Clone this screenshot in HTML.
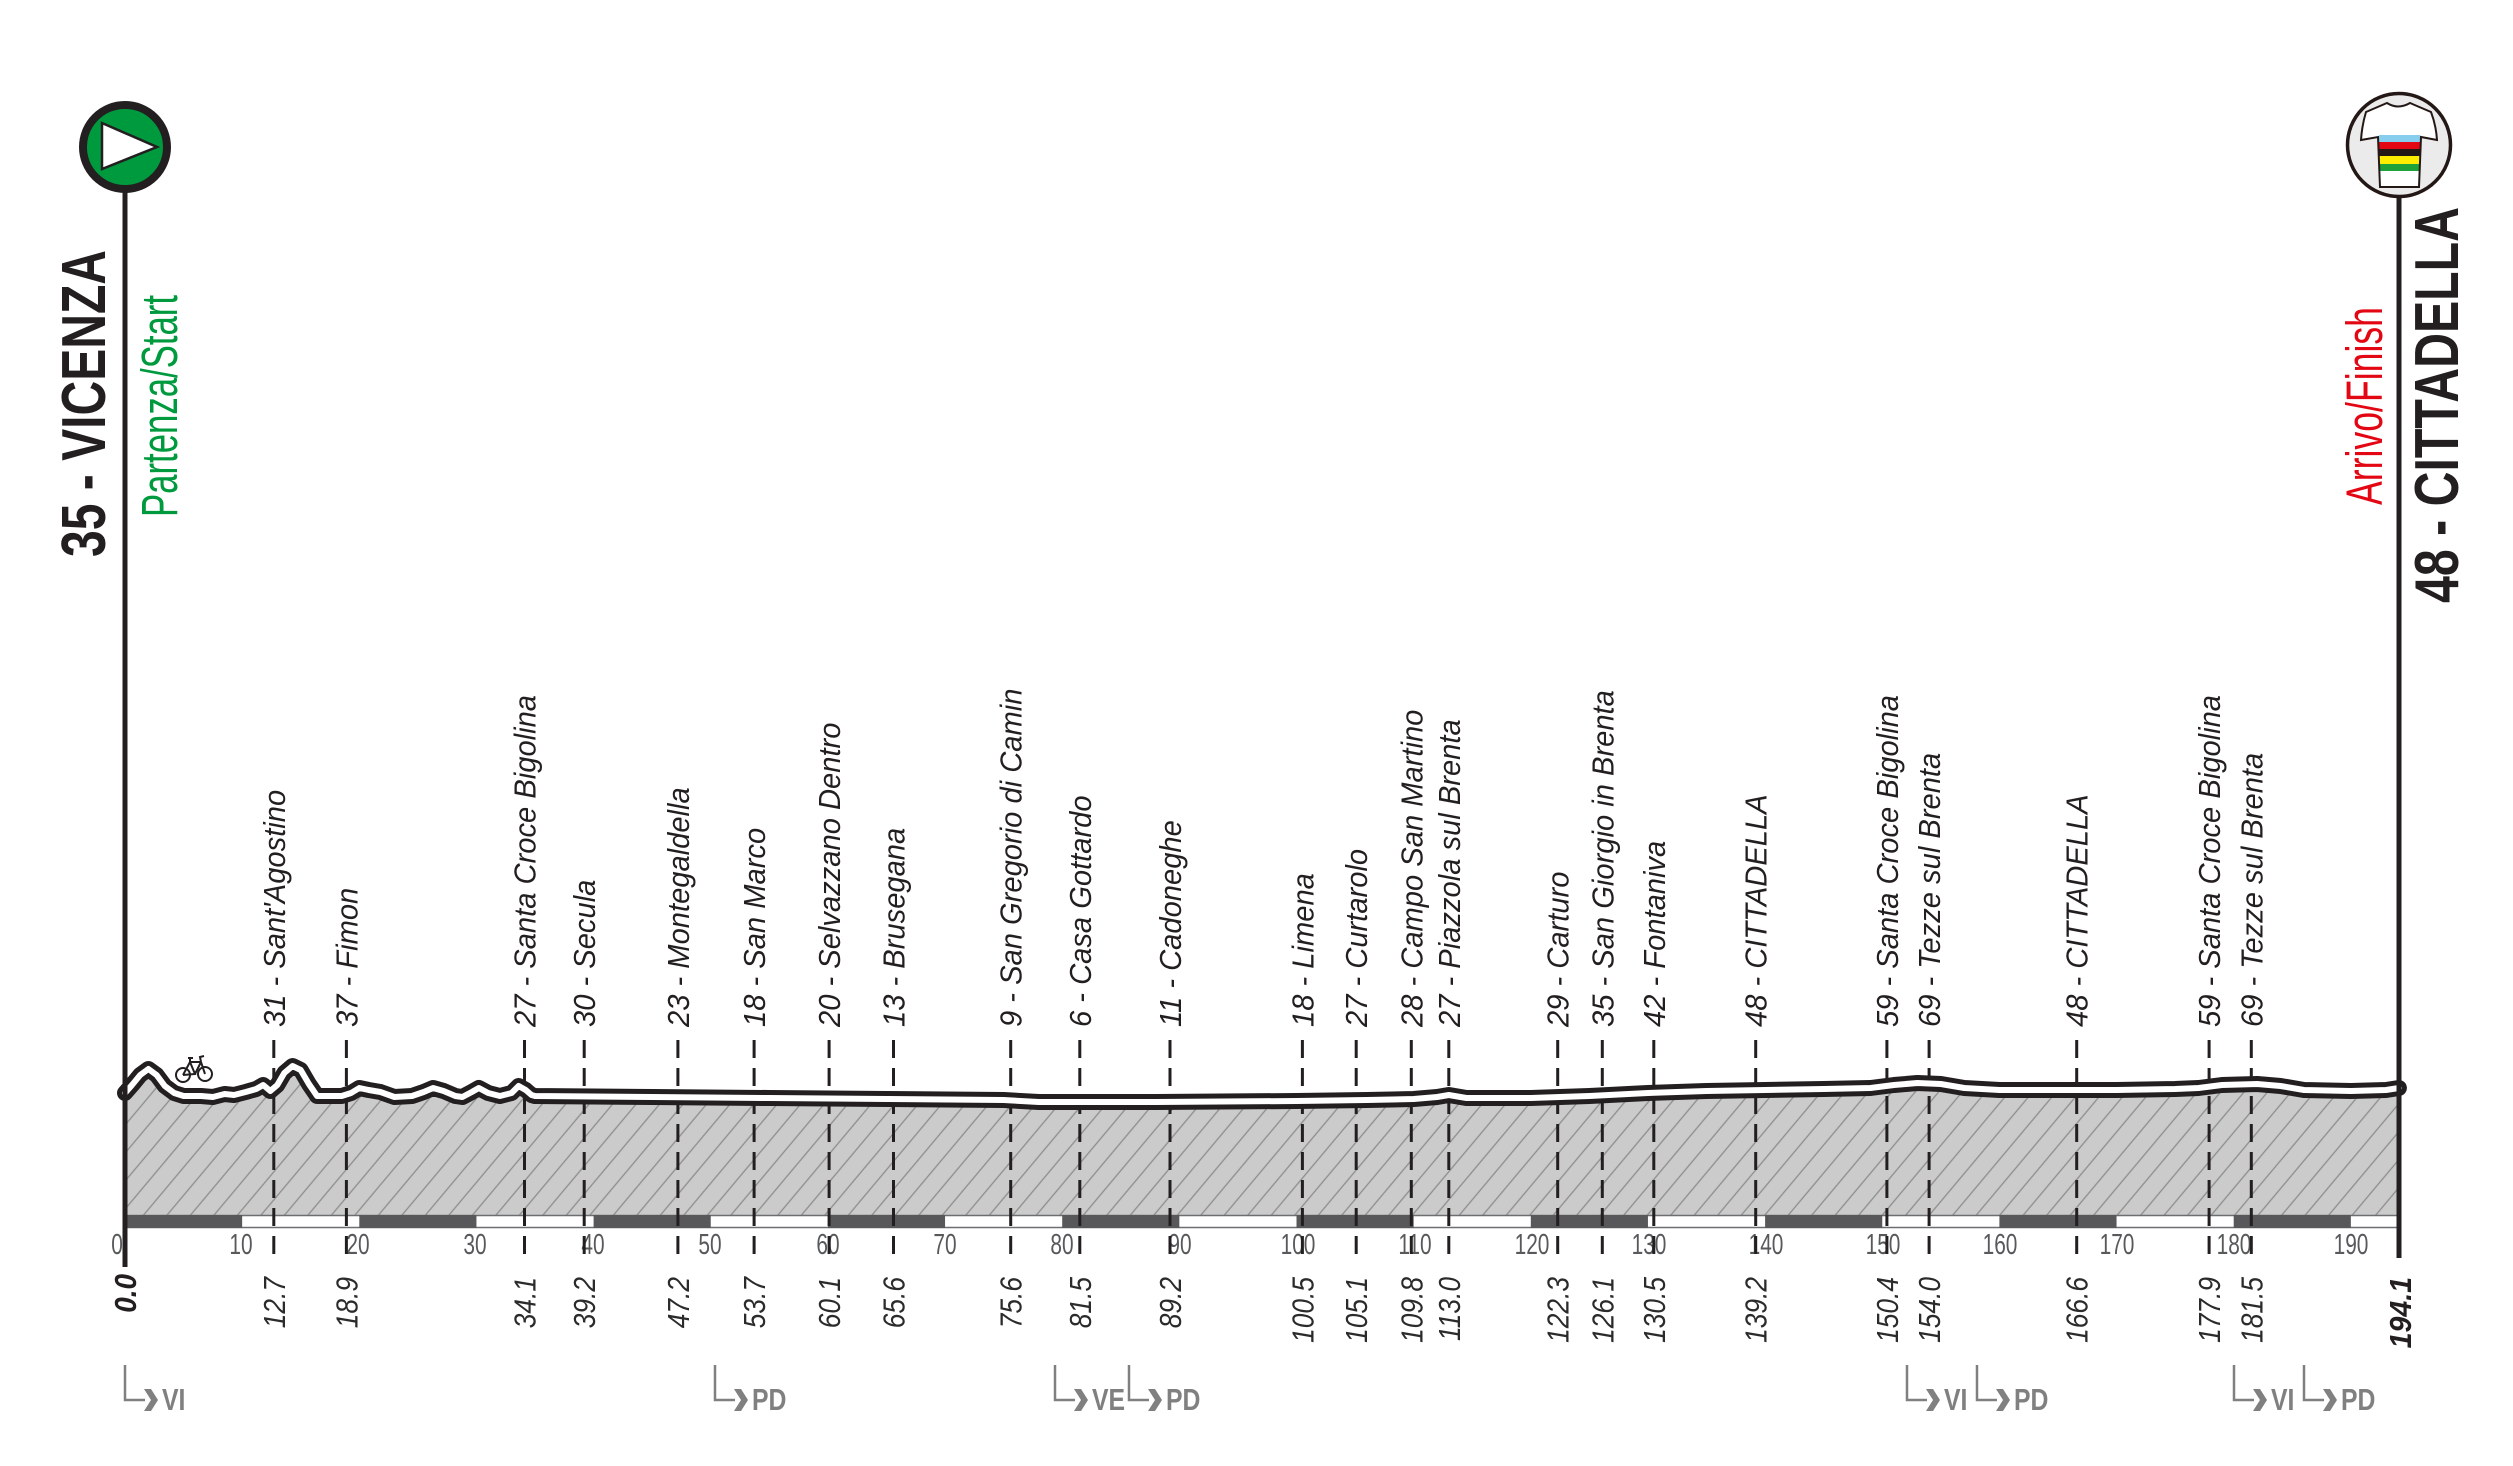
<!DOCTYPE html>
<html>
<head>
<meta charset="utf-8">
<style>
html,body{margin:0;padding:0;background:#fff;}
svg{display:block;}
.t{font-family:"Liberation Sans",sans-serif;font-style:italic;font-size:31px;fill:#231f20;}
.b{font-family:"Liberation Sans",sans-serif;font-style:italic;font-size:31px;fill:#2b2b2b;}
.bb{font-family:"Liberation Sans",sans-serif;font-style:italic;font-weight:bold;font-size:31px;fill:#231f20;}
.k{font-family:"Liberation Sans",sans-serif;font-size:29px;fill:#58595b;}
.m{font-family:"Liberation Sans",sans-serif;font-weight:bold;font-size:31px;fill:#808080;}
.ttl{font-family:"Liberation Sans",sans-serif;font-weight:bold;font-size:62px;fill:#231f20;}
.sub{font-family:"Liberation Sans",sans-serif;font-size:51px;}
</style>
</head>
<body>
<svg width="2513" height="1466" viewBox="0 0 2513 1466" xmlns="http://www.w3.org/2000/svg">
<defs>
<pattern id="h" width="18" height="18" patternUnits="userSpaceOnUse" patternTransform="rotate(40)">
<line x1="9" y1="0" x2="9" y2="18" stroke="#8d8d8d" stroke-width="1.3"/>
</pattern>
</defs>

<!-- profile line path (reference) -->
<path id="prof" d="M125,1093 L132,1085 L140.2,1075 L148.4,1069 L156.6,1075 L164.8,1086 L174.2,1093 L183.6,1096 L201.1,1096 L212.9,1097 L224.6,1094 L234,1095 L245.7,1092 L256.2,1089 L263.2,1085 L270.3,1091 L277.3,1085 L284.3,1073 L292.5,1066 L300.7,1070 L308.9,1084 L317.1,1096 L341.7,1096 L351.1,1093 L359.3,1088 L368.7,1090 L380.4,1092 L394.4,1097 L412,1096 L423.7,1092 L433.1,1088 L443.6,1091 L455.4,1096 L462.4,1097 L471.8,1092 L478.8,1088 L488.2,1093 L499.9,1096 L511.6,1093 L518.6,1086 L525.7,1090 L531.5,1095 L535,1096 L652.2,1097 L769.3,1098 L886.5,1099 L1003.6,1100 L1038.8,1102 L1155.9,1102 L1296.5,1101 L1366.8,1100 L1413.7,1099 L1437.1,1097 L1448.8,1095 L1466.4,1098 L1530.8,1098 L1589.4,1096 L1648,1093 L1706.5,1091 L1765.1,1090 L1823.7,1089 L1870.5,1088 L1894,1085 L1917.4,1083 L1940.8,1084 L1964.3,1088 L1999.4,1090 L2116.6,1090 L2175.1,1089 L2198.6,1088 L2222,1085 L2257.1,1084 L2280.6,1086 L2304,1090 L2350.9,1091 L2386,1090 L2398.9,1088" fill="none"/>
<path d="M125,1093 L132,1085 L140.2,1075 L148.4,1069 L156.6,1075 L164.8,1086 L174.2,1093 L183.6,1096 L201.1,1096 L212.9,1097 L224.6,1094 L234,1095 L245.7,1092 L256.2,1089 L263.2,1085 L270.3,1091 L277.3,1085 L284.3,1073 L292.5,1066 L300.7,1070 L308.9,1084 L317.1,1096 L341.7,1096 L351.1,1093 L359.3,1088 L368.7,1090 L380.4,1092 L394.4,1097 L412,1096 L423.7,1092 L433.1,1088 L443.6,1091 L455.4,1096 L462.4,1097 L471.8,1092 L478.8,1088 L488.2,1093 L499.9,1096 L511.6,1093 L518.6,1086 L525.7,1090 L531.5,1095 L535,1096 L652.2,1097 L769.3,1098 L886.5,1099 L1003.6,1100 L1038.8,1102 L1155.9,1102 L1296.5,1101 L1366.8,1100 L1413.7,1099 L1437.1,1097 L1448.8,1095 L1466.4,1098 L1530.8,1098 L1589.4,1096 L1648,1093 L1706.5,1091 L1765.1,1090 L1823.7,1089 L1870.5,1088 L1894,1085 L1917.4,1083 L1940.8,1084 L1964.3,1088 L1999.4,1090 L2116.6,1090 L2175.1,1089 L2198.6,1088 L2222,1085 L2257.1,1084 L2280.6,1086 L2304,1090 L2350.9,1091 L2386,1090 L2398.9,1088 L2398.9,1215 L125,1215 Z" fill="#cbcbcb"/>
<path d="M125,1093 L132,1085 L140.2,1075 L148.4,1069 L156.6,1075 L164.8,1086 L174.2,1093 L183.6,1096 L201.1,1096 L212.9,1097 L224.6,1094 L234,1095 L245.7,1092 L256.2,1089 L263.2,1085 L270.3,1091 L277.3,1085 L284.3,1073 L292.5,1066 L300.7,1070 L308.9,1084 L317.1,1096 L341.7,1096 L351.1,1093 L359.3,1088 L368.7,1090 L380.4,1092 L394.4,1097 L412,1096 L423.7,1092 L433.1,1088 L443.6,1091 L455.4,1096 L462.4,1097 L471.8,1092 L478.8,1088 L488.2,1093 L499.9,1096 L511.6,1093 L518.6,1086 L525.7,1090 L531.5,1095 L535,1096 L652.2,1097 L769.3,1098 L886.5,1099 L1003.6,1100 L1038.8,1102 L1155.9,1102 L1296.5,1101 L1366.8,1100 L1413.7,1099 L1437.1,1097 L1448.8,1095 L1466.4,1098 L1530.8,1098 L1589.4,1096 L1648,1093 L1706.5,1091 L1765.1,1090 L1823.7,1089 L1870.5,1088 L1894,1085 L1917.4,1083 L1940.8,1084 L1964.3,1088 L1999.4,1090 L2116.6,1090 L2175.1,1089 L2198.6,1088 L2222,1085 L2257.1,1084 L2280.6,1086 L2304,1090 L2350.9,1091 L2386,1090 L2398.9,1088 L2398.9,1215 L125,1215 Z" fill="url(#h)"/>

<!-- km bar -->
<rect x="125" y="1215.5" width="2273.9" height="12" fill="#fff" stroke="#6d6e71" stroke-width="1.5"/>
<g fill="#58585a">
<rect x="125" y="1215" width="117.15" height="13"/>
<rect x="359.3" y="1215" width="117.15" height="13"/>
<rect x="593.6" y="1215" width="117.15" height="13"/>
<rect x="827.9" y="1215" width="117.15" height="13"/>
<rect x="1062.2" y="1215" width="117.15" height="13"/>
<rect x="1296.5" y="1215" width="117.15" height="13"/>
<rect x="1530.8" y="1215" width="117.15" height="13"/>
<rect x="1765.1" y="1215" width="117.15" height="13"/>
<rect x="1999.4" y="1215" width="117.15" height="13"/>
<rect x="2233.7" y="1215" width="117.15" height="13"/>
</g>

<!-- km tick labels -->
<g class="k" text-anchor="middle">
<text transform="translate(117,1254) scale(0.72,1)">0</text>
<text transform="translate(241,1254) scale(0.72,1)">10</text>
<text transform="translate(358,1254) scale(0.72,1)">20</text>
<text transform="translate(475,1254) scale(0.72,1)">30</text>
<text transform="translate(593,1254) scale(0.72,1)">40</text>
<text transform="translate(710,1254) scale(0.72,1)">50</text>
<text transform="translate(828,1254) scale(0.72,1)">60</text>
<text transform="translate(945,1254) scale(0.72,1)">70</text>
<text transform="translate(1062,1254) scale(0.72,1)">80</text>
<text transform="translate(1180,1254) scale(0.72,1)">90</text>
<text transform="translate(1298,1254) scale(0.72,1)">100</text>
<text transform="translate(1415,1254) scale(0.72,1)">110</text>
<text transform="translate(1532,1254) scale(0.72,1)">120</text>
<text transform="translate(1649,1254) scale(0.72,1)">130</text>
<text transform="translate(1766,1254) scale(0.72,1)">140</text>
<text transform="translate(1883,1254) scale(0.72,1)">150</text>
<text transform="translate(2000,1254) scale(0.72,1)">160</text>
<text transform="translate(2117,1254) scale(0.72,1)">170</text>
<text transform="translate(2234,1254) scale(0.72,1)">180</text>
<text transform="translate(2351,1254) scale(0.72,1)">190</text>
</g>

<!-- dashed lines -->
<g stroke="#231f20" stroke-width="3" stroke-dasharray="18 10">
<line x1="273.8" y1="1040" x2="273.8" y2="1262"/>
<line x1="346.4" y1="1040" x2="346.4" y2="1262"/>
<line x1="524.5" y1="1040" x2="524.5" y2="1262"/>
<line x1="584.2" y1="1040" x2="584.2" y2="1262"/>
<line x1="677.9" y1="1040" x2="677.9" y2="1262"/>
<line x1="754.1" y1="1040" x2="754.1" y2="1262"/>
<line x1="829.1" y1="1040" x2="829.1" y2="1262"/>
<line x1="893.5" y1="1040" x2="893.5" y2="1262"/>
<line x1="1010.7" y1="1040" x2="1010.7" y2="1262"/>
<line x1="1079.8" y1="1040" x2="1079.8" y2="1262"/>
<line x1="1170" y1="1040" x2="1170" y2="1262"/>
<line x1="1302.4" y1="1040" x2="1302.4" y2="1262"/>
<line x1="1356.2" y1="1040" x2="1356.2" y2="1262"/>
<line x1="1411.3" y1="1040" x2="1411.3" y2="1262"/>
<line x1="1448.8" y1="1040" x2="1448.8" y2="1262"/>
<line x1="1557.7" y1="1040" x2="1557.7" y2="1262"/>
<line x1="1602.3" y1="1040" x2="1602.3" y2="1262"/>
<line x1="1653.8" y1="1040" x2="1653.8" y2="1262"/>
<line x1="1755.7" y1="1040" x2="1755.7" y2="1262"/>
<line x1="1886.9" y1="1040" x2="1886.9" y2="1262"/>
<line x1="1929.1" y1="1040" x2="1929.1" y2="1262"/>
<line x1="2076.7" y1="1040" x2="2076.7" y2="1262"/>
<line x1="2209.1" y1="1040" x2="2209.1" y2="1262"/>
<line x1="2251.3" y1="1040" x2="2251.3" y2="1262"/>
</g>

<!-- profile line -->
<use href="#prof" stroke="#231f20" stroke-width="16" stroke-linejoin="round" stroke-linecap="round"/>
<use href="#prof" stroke="#ffffff" stroke-width="6" stroke-linejoin="round" stroke-linecap="round"/>

<!-- bike icon -->
<g fill="none" stroke="#231f20" stroke-width="2">
<circle cx="183" cy="1075" r="7"/>
<circle cx="205" cy="1074" r="7"/>
<path d="M183,1075 L190,1062 L201,1062 L205,1074 M190,1062 L195,1074 L183,1075 M195,1074 L201,1062 M188,1058 L193,1058 M190,1058 L190,1062 M201,1062 L200,1057 L204,1056"/>
</g>

<!-- axes -->
<line x1="125" y1="190" x2="125" y2="1267" stroke="#231f20" stroke-width="5"/>
<line x1="2399" y1="196" x2="2399" y2="1258" stroke="#231f20" stroke-width="5"/>

<!-- start circle -->
<circle cx="125" cy="147" r="42" fill="#009a3e" stroke="#231f20" stroke-width="8"/>
<polygon points="102,123 102,169 157,147" fill="#fff" stroke="#231f20" stroke-width="2.5" stroke-linejoin="miter"/>

<!-- finish circle -->
<circle cx="2399" cy="145" r="51.5" fill="#ebebeb" stroke="#231815" stroke-width="3.5"/>
<g>
<path d="M2366,112 L2387,103 Q2398,110 2410,103 L2431,112 Q2436,125 2437,140 L2421,137 L2419,187 L2380,187 L2378,137 L2361,140 Q2362,125 2366,112 Z" fill="#fff"/>
<rect x="2379" y="135" width="41" height="7" fill="#87cdee"/>
<rect x="2379" y="142" width="41" height="7" fill="#e30613"/>
<rect x="2379" y="149" width="41" height="7" fill="#231815"/>
<rect x="2379" y="156" width="41" height="8" fill="#ffed00"/>
<rect x="2379" y="164" width="41" height="7" fill="#1fa23a"/>
<rect x="2379" y="171" width="41" height="16" fill="#ffffff"/>
<path d="M2366,112 L2387,103 Q2398,110 2410,103 L2431,112 Q2436,125 2437,140 L2421,137 L2419,187 L2380,187 L2378,137 L2361,140 Q2362,125 2366,112 Z" fill="none" stroke="#231815" stroke-width="2"/>
</g>

<!-- titles -->
<text class="ttl" transform="translate(105,557) rotate(-90)" textLength="307" lengthAdjust="spacingAndGlyphs">35 - VICENZA</text>
<text class="sub" fill="#009a3e" transform="translate(177,517) rotate(-90)" textLength="222" lengthAdjust="spacingAndGlyphs">Partenza/Start</text>
<text class="ttl" transform="translate(2458,603) rotate(-90)" textLength="396" lengthAdjust="spacingAndGlyphs">48 - CITTADELLA</text>
<text class="sub" fill="#e30613" transform="translate(2382,505) rotate(-90)" textLength="198" lengthAdjust="spacingAndGlyphs">Arrivo/Finish</text>

<!-- top location labels -->
<g class="t">
<text transform="translate(284.8,1027) rotate(-90) scale(0.94,1)">31 - Sant'Agostino</text>
<text transform="translate(357.4,1027) rotate(-90) scale(0.94,1)">37 - Fimon</text>
<text transform="translate(535.5,1027) rotate(-90) scale(0.94,1)">27 - Santa Croce Bigolina</text>
<text transform="translate(595.2,1027) rotate(-90) scale(0.94,1)">30 - Secula</text>
<text transform="translate(688.9,1027) rotate(-90) scale(0.94,1)">23 - Montegaldella</text>
<text transform="translate(765.1,1027) rotate(-90) scale(0.94,1)">18 - San Marco</text>
<text transform="translate(840.1,1027) rotate(-90) scale(0.94,1)">20 - Selvazzano Dentro</text>
<text transform="translate(904.5,1027) rotate(-90) scale(0.94,1)">13 - Brusegana</text>
<text transform="translate(1021.7,1027) rotate(-90) scale(0.94,1)">9 - San Gregorio di Camin</text>
<text transform="translate(1090.8,1027) rotate(-90) scale(0.94,1)">6 - Casa Gottardo</text>
<text transform="translate(1181,1027) rotate(-90) scale(0.94,1)">11 - Cadoneghe</text>
<text transform="translate(1313.4,1027) rotate(-90) scale(0.94,1)">18 - Limena</text>
<text transform="translate(1367.2,1027) rotate(-90) scale(0.94,1)">27 - Curtarolo</text>
<text transform="translate(1422.3,1027) rotate(-90) scale(0.94,1)">28 - Campo San Martino</text>
<text transform="translate(1459.8,1027) rotate(-90) scale(0.94,1)">27 - Piazzola sul Brenta</text>
<text transform="translate(1568.7,1027) rotate(-90) scale(0.94,1)">29 - Carturo</text>
<text transform="translate(1613.3,1027) rotate(-90) scale(0.94,1)">35 - San Giorgio in Brenta</text>
<text transform="translate(1664.8,1027) rotate(-90) scale(0.94,1)">42 - Fontaniva</text>
<text transform="translate(1766.7,1027) rotate(-90) scale(0.94,1)">48 - CITTADELLA</text>
<text transform="translate(1897.9,1027) rotate(-90) scale(0.94,1)">59 - Santa Croce Bigolina</text>
<text transform="translate(1940.1,1027) rotate(-90) scale(0.94,1)">69 - Tezze sul Brenta</text>
<text transform="translate(2087.7,1027) rotate(-90) scale(0.94,1)">48 - CITTADELLA</text>
<text transform="translate(2220.1,1027) rotate(-90) scale(0.94,1)">59 - Santa Croce Bigolina</text>
<text transform="translate(2262.3,1027) rotate(-90) scale(0.94,1)">69 - Tezze sul Brenta</text>
</g>

<!-- bottom km labels -->
<g class="b" text-anchor="end">
<text transform="translate(284.8,1277) rotate(-90) scale(0.85,1)">12.7</text>
<text transform="translate(357.4,1277) rotate(-90) scale(0.85,1)">18.9</text>
<text transform="translate(535.5,1277) rotate(-90) scale(0.85,1)">34.1</text>
<text transform="translate(595.2,1277) rotate(-90) scale(0.85,1)">39.2</text>
<text transform="translate(688.9,1277) rotate(-90) scale(0.85,1)">47.2</text>
<text transform="translate(765.1,1277) rotate(-90) scale(0.85,1)">53.7</text>
<text transform="translate(840.1,1277) rotate(-90) scale(0.85,1)">60.1</text>
<text transform="translate(904.5,1277) rotate(-90) scale(0.85,1)">65.6</text>
<text transform="translate(1021.7,1277) rotate(-90) scale(0.85,1)">75.6</text>
<text transform="translate(1090.8,1277) rotate(-90) scale(0.85,1)">81.5</text>
<text transform="translate(1181,1277) rotate(-90) scale(0.85,1)">89.2</text>
<text transform="translate(1313.4,1277) rotate(-90) scale(0.85,1)">100.5</text>
<text transform="translate(1367.2,1277) rotate(-90) scale(0.85,1)">105.1</text>
<text transform="translate(1422.3,1277) rotate(-90) scale(0.85,1)">109.8</text>
<text transform="translate(1459.8,1277) rotate(-90) scale(0.85,1)">113.0</text>
<text transform="translate(1568.7,1277) rotate(-90) scale(0.85,1)">122.3</text>
<text transform="translate(1613.3,1277) rotate(-90) scale(0.85,1)">126.1</text>
<text transform="translate(1664.8,1277) rotate(-90) scale(0.85,1)">130.5</text>
<text transform="translate(1766.7,1277) rotate(-90) scale(0.85,1)">139.2</text>
<text transform="translate(1897.9,1277) rotate(-90) scale(0.85,1)">150.4</text>
<text transform="translate(1940.1,1277) rotate(-90) scale(0.85,1)">154.0</text>
<text transform="translate(2087.7,1277) rotate(-90) scale(0.85,1)">166.6</text>
<text transform="translate(2220.1,1277) rotate(-90) scale(0.85,1)">177.9</text>
<text transform="translate(2262.3,1277) rotate(-90) scale(0.85,1)">181.5</text>
</g>
<g class="bb" text-anchor="end">
<text transform="translate(136,1274) rotate(-90) scale(0.9,1)">0.0</text>
<text transform="translate(2411,1277) rotate(-90) scale(0.92,1)">194.1</text>
</g>

<!-- region markers -->
<g fill="none" stroke="#808080" stroke-width="2.5">
<path d="M125,1365 V1400 H145"/>
<path d="M715,1365 V1400 H735"/>
<path d="M1055,1365 V1400 H1075"/>
<path d="M1129,1365 V1400 H1149"/>
<path d="M1907,1365 V1400 H1927"/>
<path d="M1977,1365 V1400 H1997"/>
<path d="M2234,1365 V1400 H2254"/>
<path d="M2304,1365 V1400 H2324"/>
</g>
<g fill="#808080">
<polygon points="144,1389 151,1389 158,1400 151,1411 144,1411 151,1400"/>
<polygon points="734,1389 741,1389 748,1400 741,1411 734,1411 741,1400"/>
<polygon points="1074,1389 1081,1389 1088,1400 1081,1411 1074,1411 1081,1400"/>
<polygon points="1148,1389 1155,1389 1162,1400 1155,1411 1148,1411 1155,1400"/>
<polygon points="1926,1389 1933,1389 1940,1400 1933,1411 1926,1411 1933,1400"/>
<polygon points="1996,1389 2003,1389 2010,1400 2003,1411 1996,1411 2003,1400"/>
<polygon points="2253,1389 2260,1389 2267,1400 2260,1411 2253,1411 2260,1400"/>
<polygon points="2323,1389 2330,1389 2337,1400 2330,1411 2323,1411 2330,1400"/>
</g>
<g class="m">
<text transform="translate(162,1410) scale(0.8,1)">VI</text>
<text transform="translate(752,1410) scale(0.8,1)">PD</text>
<text transform="translate(1092,1410) scale(0.8,1)">VE</text>
<text transform="translate(1166,1410) scale(0.8,1)">PD</text>
<text transform="translate(1944,1410) scale(0.8,1)">VI</text>
<text transform="translate(2014,1410) scale(0.8,1)">PD</text>
<text transform="translate(2271,1410) scale(0.8,1)">VI</text>
<text transform="translate(2341,1410) scale(0.8,1)">PD</text>
</g>
</svg>
</body>
</html>
